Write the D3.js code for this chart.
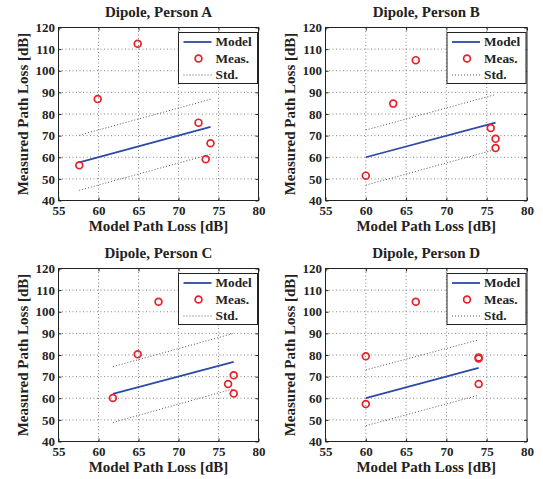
<!DOCTYPE html>
<html>
<head>
<meta charset="utf-8">
<script src="https://cdn.jsdelivr.net/npm/d3@7"></script>
<style>
  body { margin: 0; background: #fff; }
  svg { display: block; }
  text { font-family: "Liberation Serif", "Times New Roman", serif; font-weight: bold; fill: #222; }
  .axis path { display: none; }
  .axis line { stroke: #222; }
</style>
</head>
<body>
<div id="chart"></div>
<script>
// panel titles
var titles = ["Dipole, Person A", "Dipole, Person B", "Dipole, Person C", "Dipole, Person D"];

// axis ticks
var xTicks = [55, 60, 65, 70, 75, 80];
var yTicks = [40, 50, 60, 70, 80, 90, 100, 110, 120];

// measurements (model path loss vs measured path loss)
var measX = [
  [57.6, 59.9, 64.9, 72.5, 74.0, 73.4],
  [60.0, 63.4, 66.2, 75.5, 76.1, 76.1],
  [61.8, 64.9, 67.5, 76.2, 76.9, 76.9],
  [60.0, 60.0, 66.2, 74.0, 74.0, 74.0]
];
var measY = [
  [56.3, 86.9, 112.5, 76.0, 66.5, 59.1],
  [51.5, 84.8, 104.9, 73.5, 68.5, 64.3],
  [60.1, 80.3, 104.6, 66.6, 70.6, 62.2],
  [79.4, 57.3, 104.6, 78.9, 78.4, 66.6]
];

// model line end points
var modelX = [[57.6, 74.0], [60.0, 76.1], [61.8, 76.9], [60.0, 74.0]];
var modelY = [[57.6, 74.0], [60.0, 76.0], [62.0, 76.8], [60.1, 74.0]];

// std bounds at the same end points
var stdUp = [[70.2, 86.8], [72.6, 89.0], [74.6, 90.0], [73.1, 87.0]];
var stdLo = [[44.7, 61.4], [47.1, 63.6], [48.8, 64.4], [47.3, 61.4]];

var legendLabels = ["Model", "Meas.", "Std."];

var svg = d3.select("#chart").append("svg")
  .attr("width", 543)
  .attr("height", 479);

// plot area of each panel
var boxes = [
  {left: 58.5, top: 27.5, w: 200, h: 173},
  {left: 325.5, top: 27.5, w: 201.5, h: 173},
  {left: 58.5, top: 268.5, w: 200, h: 173},
  {left: 325.5, top: 268.5, w: 201.5, h: 173}
];

boxes.forEach(function(b, i) {
  var g = svg.append("g").attr("transform", "translate(" + b.left + "," + b.top + ")");

  var x = d3.scaleLinear().domain([55, 80]).range([0, b.w]);
  var y = d3.scaleLinear().domain([40, 120]).range([b.h, 0]);

  // grid
  g.selectAll(".gx").data(xTicks.slice(1, -1)).enter().append("line")
    .attr("x1", x).attr("x2", x).attr("y1", 0).attr("y2", b.h)
    .attr("stroke", "#777").attr("stroke-width", 0.9).attr("stroke-dasharray", "1,2.5");
  g.selectAll(".gy").data(yTicks.slice(1, -1)).enter().append("line")
    .attr("y1", y).attr("y2", y).attr("x1", 0).attr("x2", b.w)
    .attr("stroke", "#777").attr("stroke-width", 0.9).attr("stroke-dasharray", "1,2.5");

  // axes with inward ticks
  g.append("g").attr("class", "axis")
    .attr("transform", "translate(0," + b.h + ")")
    .call(d3.axisBottom(x).tickValues(xTicks).tickSizeInner(-3).tickSizeOuter(0).tickPadding(5.5))
    .selectAll("text").style("font-size", "13px").attr("fill", "#222");
  g.append("g").attr("class", "axis")
    .call(d3.axisLeft(y).tickValues(yTicks).tickSizeInner(-3).tickSizeOuter(0).tickPadding(3.5))
    .selectAll("text").style("font-size", "13px").attr("fill", "#222");
  g.append("g").attr("class", "axis")
    .call(d3.axisTop(x).tickValues(xTicks).tickSizeInner(-3).tickSizeOuter(0).tickFormat(""));
  g.append("g").attr("class", "axis")
    .attr("transform", "translate(" + b.w + ",0)")
    .call(d3.axisRight(y).tickValues(yTicks).tickSizeInner(-3).tickSizeOuter(0).tickFormat(""));

  // frame
  g.append("rect").attr("width", b.w).attr("height", b.h)
    .attr("fill", "none").attr("stroke", "#222").attr("stroke-width", 1);

  var line = d3.line().x(function(d) { return x(d[0]); }).y(function(d) { return y(d[1]); });

  // std lines
  [stdUp[i], stdLo[i]].forEach(function(s) {
    g.append("path")
      .attr("d", line(d3.zip(modelX[i], s)))
      .attr("fill", "none").attr("stroke", "#555").attr("stroke-width", 1)
      .attr("stroke-dasharray", "1,2");
  });

  // model line
  g.append("path")
    .attr("d", line(d3.zip(modelX[i], modelY[i])))
    .attr("fill", "none").attr("stroke", "#2c4aa6").attr("stroke-width", 1.8);

  // measurements
  g.selectAll(".m").data(d3.zip(measX[i], measY[i])).enter().append("circle")
    .attr("cx", function(d) { return x(d[0]); })
    .attr("cy", function(d) { return y(d[1]); })
    .attr("r", 3.4)
    .attr("fill", "none").attr("stroke", "#e8202a").attr("stroke-width", 1.7);

  // legend
  var lw = 79, lh = 51;
  var lg = g.append("g").attr("transform", "translate(" + (b.w - lw - 1) + ",5)");
  lg.append("rect").attr("width", lw).attr("height", lh)
    .attr("fill", "#fff").attr("stroke", "#222").attr("stroke-width", 1);
  var rows = [13.5, 30, 46.5];
  lg.append("line").attr("x1", 5).attr("x2", 33).attr("y1", rows[0] - 4).attr("y2", rows[0] - 4)
    .attr("stroke", "#2c4aa6").attr("stroke-width", 1.8);
  lg.append("circle").attr("cx", 20).attr("cy", rows[1] - 4).attr("r", 3.4)
    .attr("fill", "none").attr("stroke", "#e8202a").attr("stroke-width", 1.7);
  lg.append("line").attr("x1", 5).attr("x2", 33).attr("y1", rows[2] - 4).attr("y2", rows[2] - 4)
    .attr("stroke", "#555").attr("stroke-width", 1).attr("stroke-dasharray", "1,2");
  lg.selectAll("text").data(legendLabels).enter().append("text")
    .attr("x", 37).attr("y", function(d, k) { return rows[k]; })
    .style("font-size", "13.3px")
    .text(function(d) { return d; });

  // title and axis labels
  g.append("text").attr("x", b.w / 2).attr("y", -10.5)
    .attr("text-anchor", "middle").style("font-size", "15px").text(titles[i]);
  g.append("text").attr("x", b.w / 2).attr("y", b.h + 30)
    .attr("text-anchor", "middle").style("font-size", "15px").text("Model Path Loss [dB]");
  g.append("text")
    .attr("transform", "translate(-31," + (b.h / 2) + ") rotate(-90)")
    .attr("text-anchor", "middle").style("font-size", "15px").text("Measured Path Loss [dB]");
});
</script>
</body>
</html>
